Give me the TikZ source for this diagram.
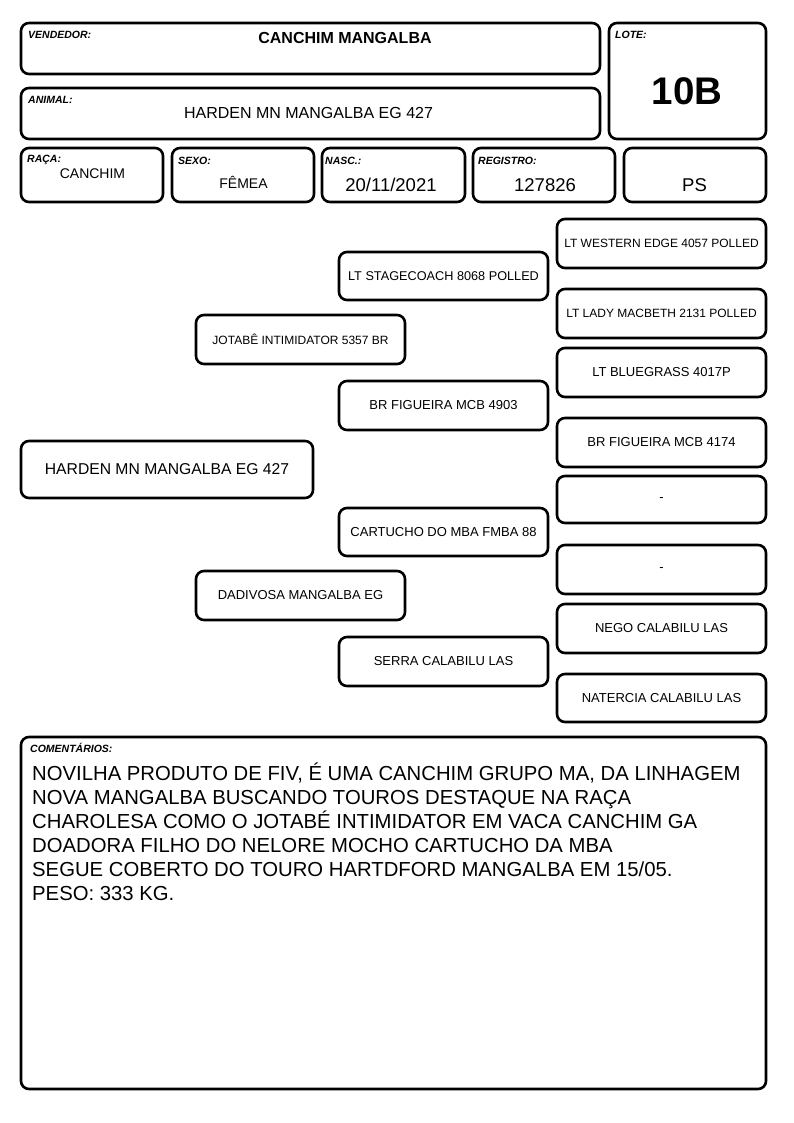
\documentclass[tikz,border=0pt]{standalone}
\usepackage{fontspec}
\setmainfont{Liberation Sans}
\begin{document}
\begin{tikzpicture}[x=1pt,y=-1pt,
  box/.style={draw=black, line width=2.6pt, rounded corners=8pt, inner sep=0pt},
  lbl/.style={anchor=base west, inner sep=0pt, font=\fontsize{10.5}{12}\selectfont\bfseries\itshape},
  val/.style={anchor=base, inner sep=0pt},
  ped/.style={box, minimum width=209pt, font=\fontsize{13}{15}\selectfont, align=center},
  pedsm/.style={ped, font=\fontsize{12}{14}\selectfont}]
\useasboundingbox (0,0) rectangle (794,1123);
% header boxes
\node[box, minimum width=579pt, minimum height=51pt] (vend) at (310.5,48.5) {};
\node[box, minimum width=579pt, minimum height=51pt] (anim) at (310.5,113.5) {};
\node[box, minimum width=157pt, minimum height=116pt] (lote) at (687.5,81) {};
\node[box, minimum width=142pt, minimum height=54pt] (raca) at (92,175) {};
\node[box, minimum width=142pt, minimum height=54pt] (sexo) at (243,175) {};
\node[box, minimum width=143pt, minimum height=54pt] (nasc) at (393.5,175) {};
\node[box, minimum width=142pt, minimum height=54pt] (reg) at (544,175) {};
\node[box, minimum width=142pt, minimum height=54pt] (ps) at (695,175) {};
% labels
\node[lbl] (lvend) at (28,39) {VENDEDOR:};
\node[lbl] (lanim) at (28,103.3) {ANIMAL:};
\node[lbl] (llote) at (615,39) {LOTE:};
\node[lbl] (lraca) at (27,162.5) {RAÇA:};
\node[lbl] (lsexo) at (178,165) {SEXO:};
\node[lbl] (lnasc) at (325,165) {NASC.:};
\node[lbl] (lreg) at (478,165) {REGISTRO:};
% values
\node[val, font=\fontsize{16}{18}\selectfont\bfseries] (tvend) at (345,43.3) {CANCHIM MANGALBA};
\node[val, font=\fontsize{16}{18}\selectfont] (tanim) at (308.5,119) {HARDEN MN MANGALBA EG 427};
\node[val, font=\fontsize{38.5}{40}\selectfont\bfseries] (tlote) at (687,104.3) {10B};
\node[val, font=\fontsize{14}{16}\selectfont] (traca) at (92.5,178.3) {CANCHIM};
\node[val, font=\fontsize{14}{16}\selectfont] (tsexo) at (243.5,189) {FÊMEA};
\node[val, font=\fontsize{18.5}{20}\selectfont] (tnasc) at (391,191.7) {20/11/2021};
\node[val, font=\fontsize{18.5}{20}\selectfont] (treg) at (545,191.7) {127826};
\node[val, font=\fontsize{18.5}{20}\selectfont] (tps) at (694.5,191.7) {PS};
% pedigree
\node[box, minimum width=292pt, minimum height=57pt, font=\fontsize{15.7}{18}\selectfont] (p0) at (167,469.5) {HARDEN MN MANGALBA EG 427};
\node[pedsm, minimum height=49pt] (p1) at (300.5,339.5) {JOTABÊ INTIMIDATOR 5357 BR};
\node[ped, minimum height=49pt] (p2) at (300.5,595.5) {DADIVOSA MANGALBA EG};
\node[ped, minimum height=48pt, font=\fontsize{12.7}{15}\selectfont] (p3) at (443.5,276) {LT STAGECOACH 8068 POLLED};
\node[ped, minimum height=49pt] (p4) at (443.5,405.5) {BR FIGUEIRA MCB 4903};
\node[ped, minimum height=48pt] (p5) at (443.5,532) {CARTUCHO DO MBA FMBA 88};
\node[ped, minimum height=49pt] (p6) at (443.5,661.5) {SERRA CALABILU LAS};
\node[pedsm, minimum height=49pt] (g1) at (661.5,243.5) {LT WESTERN EDGE 4057 POLLED};
\node[pedsm, minimum height=49pt] (g2) at (661.5,313.5) {LT LADY MACBETH 2131 POLLED};
\node[ped, minimum height=49pt] (g3) at (661.5,372.5) {LT BLUEGRASS 4017P};
\node[ped, minimum height=49pt] (g4) at (661.5,442.5) {BR FIGUEIRA MCB 4174};
\node[ped, minimum height=47pt] (g5) at (661.5,499.5) {-};
\node[ped, minimum height=49pt] (g6) at (661.5,569.5) {-};
\node[ped, minimum height=49pt] (g7) at (661.5,628.5) {NEGO CALABILU LAS};
\node[ped, minimum height=48pt] (g8) at (661.5,698) {NATERCIA CALABILU LAS};
% comments
\node[box, minimum width=745pt, minimum height=352pt] (com) at (393.5,913) {};
\node[lbl] (lcom) at (30,752.7) {COMENTÁRIOS:};
\node[anchor=base west, inner sep=0pt, align=left, font=\fontsize{20.3}{24}\selectfont] (tcom) at (32,900) {NOVILHA PRODUTO DE FIV, É UMA CANCHIM GRUPO MA, DA LINHAGEM\\NOVA MANGALBA BUSCANDO TOUROS DESTAQUE NA RAÇA\\CHAROLESA COMO O JOTABÉ INTIMIDATOR EM VACA CANCHIM GA\\DOADORA FILHO DO NELORE MOCHO CARTUCHO DA MBA\\SEGUE COBERTO DO TOURO HARTDFORD MANGALBA EM 15/05.\\PESO: 333 KG.};
\end{tikzpicture}
\end{document}
